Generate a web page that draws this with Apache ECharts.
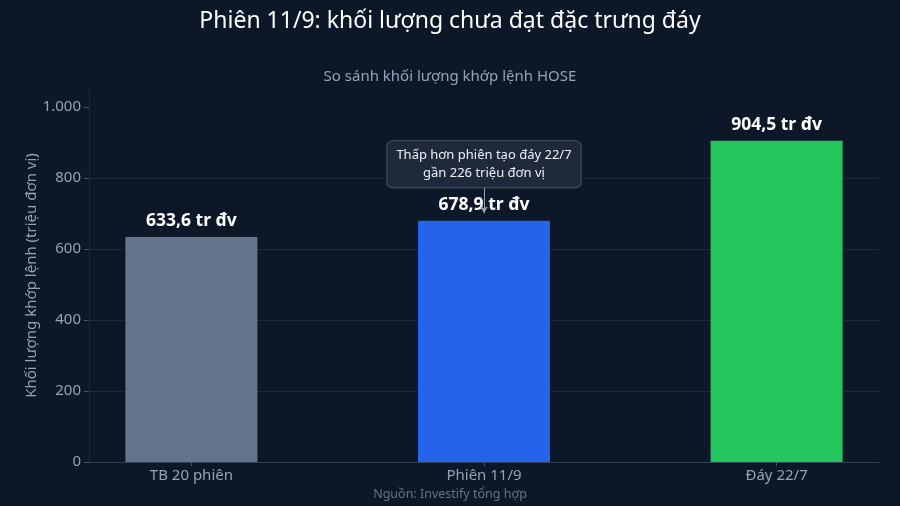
<!DOCTYPE html>
<html>
<head>
<meta charset="utf-8">
<script src="https://cdn.jsdelivr.net/npm/echarts@6/dist/echarts.min.js"></script>
<style>
  html, body { margin: 0; padding: 0; background: #0c1727; }
  #chart { width: 900px; height: 506px; }
</style>
</head>
<body>
<div id="chart"></div>
<script>
const categories = ['TB 20 phiên', 'Phiên 11/9', 'Đáy 22/7'];
const volumes = [633.6, 678.9, 904.5];
const barColors = ['#64748b', '#2563eb', '#22c55e'];
const yTicks = [0, 200, 400, 600, 800, 1000];

const FONT = '"Noto Sans", "Open Sans", sans-serif';

function fmtNum(v, digits) {
  // vietnamese style: dot thousands, comma decimals
  const s = v.toFixed(digits).split('.');
  s[0] = s[0].replace(/\B(?=(\d{3})+(?!\d))/g, '.');
  return s.join(',');
}

const chart = echarts.init(document.getElementById('chart'));

chart.setOption({
  backgroundColor: '#0c1727',
  textStyle: { fontFamily: FONT },
  title: [
    {
      text: 'Phiên 11/9: khối lượng chưa đạt đặc trưng đáy',
      left: 'center', top: 5,
      textStyle: { color: '#ffffff', fontSize: 23, fontWeight: 'normal', fontFamily: FONT }
    },
    {
      text: 'So sánh khối lượng khớp lệnh HOSE',
      left: 'center', top: 64,
      textStyle: { color: '#94a3b8', fontSize: 15, fontWeight: 'normal', fontFamily: FONT }
    },
    {
      text: 'Nguồn: Investify tổng hợp',
      left: 'center', top: 483,
      textStyle: { color: '#64748b', fontSize: 12.5, fontWeight: 'normal', fontFamily: FONT }
    }
  ],
  grid: { left: 89, right: 21, top: 89, bottom: 44 },
  xAxis: {
    type: 'value',
    min: -0.35,
    max: 2.35,
    splitLine: { show: false },
    axisLine: { show: true, lineStyle: { color: '#334155' } },
    axisTick: { show: true, customValues: [0, 1, 2], length: 4, lineStyle: { color: '#475569' } },
    axisLabel: {
      customValues: [0, 1, 2],
      formatter: v => categories[Math.round(v)],
      color: '#94a3b8', fontSize: 15, margin: 6, fontFamily: FONT
    }
  },
  yAxis: {
    type: 'value',
    min: 0,
    max: 1050,
    interval: 200,
    name: 'Khối lượng khớp lệnh (triệu đơn vị)',
    nameLocation: 'middle',
    nameGap: 50,
    nameMoveOverlap: false,
    nameTextStyle: { color: '#94a3b8', fontSize: 15, fontFamily: FONT },
    axisLine: { show: true, onZero: false, lineStyle: { color: '#1e293b' } },
    axisTick: { show: true, length: 5, customValues: yTicks, lineStyle: { color: '#475569' } },
    axisLabel: {
      color: '#94a3b8', fontSize: 15, fontFamily: FONT, margin: 8,
      customValues: yTicks,
      formatter: v => fmtNum(v, 0)
    },
    splitLine: { showMaxLine: false, lineStyle: { color: '#1c2a3d', width: 1 } }
  },
  series: [{
    type: 'bar',
    barWidth: 132,
    data: volumes.map((v, i) => ({
      value: [i, v],
      itemStyle: { color: barColors[i] }
    })),
    label: {
      show: true,
      position: 'top',
      distance: 7,
      color: '#ffffff',
      fontSize: 17.5,
      fontWeight: 'bold',
      fontFamily: FONT,
      formatter: p => fmtNum(p.value[1], 1) + ' tr đv'
    },
    markLine: {
      silent: true,
      symbol: ['none', 'arrow'],
      symbolSize: [6, 7],
      label: { show: false },
      lineStyle: { color: '#94a3b8', width: 1, type: 'solid' },
      data: [[{ coord: [1, 778] }, { coord: [1, 700] }]]
    },
    markPoint: {
      silent: true,
      symbol: 'rect',
      symbolSize: 0,
      data: [{ coord: [1, 838] }],
      label: {
        show: true,
        position: 'inside',
        formatter: 'Thấp hơn phiên tạo đáy 22/7\ngần 226 triệu đơn vị',
        color: '#edf1f7',
        fontSize: 13,
        lineHeight: 18,
        fontFamily: FONT,
        backgroundColor: '#1e293b',
        borderColor: '#475569',
        borderWidth: 1,
        borderRadius: 5,
        padding: [5, 9]
      }
    }
  }]
});
</script>
</body>
</html>
